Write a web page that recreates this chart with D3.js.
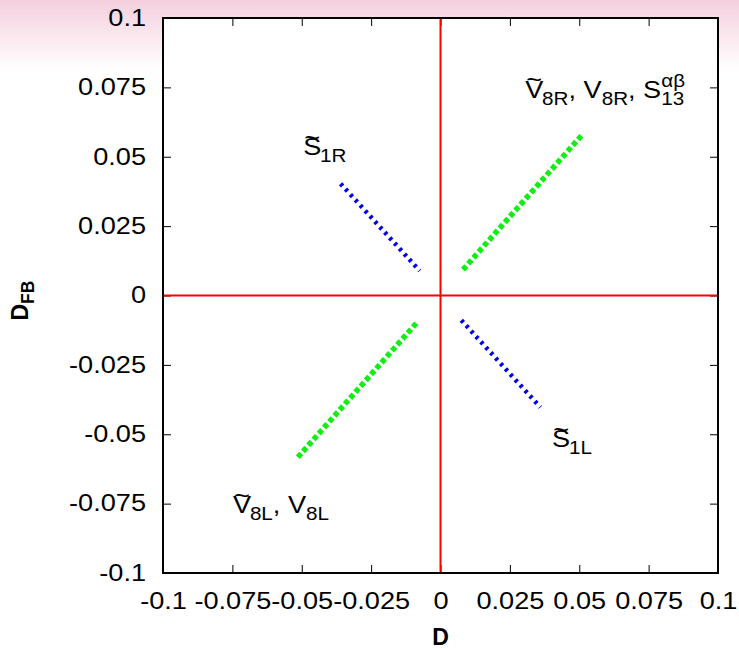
<!DOCTYPE html>
<html>
<head>
<meta charset="utf-8">
<script src="https://cdn.jsdelivr.net/npm/d3@7"></script>
<style>
  html, body { margin: 0; padding: 0; }
  body { width: 739px; height: 649px; overflow: hidden; background: #fff; }
  text { font-family: "Liberation Sans", Arial, sans-serif; fill: #000; }
</style>
</head>
<body>
<div id="chart"></div>
<script>
// tick values and their printed labels
const xTicks = [-0.1, -0.075, -0.05, -0.025, 0, 0.025, 0.05, 0.075, 0.1];
const xTickLabels = ['-0.1', '-0.075', '-0.05', '-0.025', '0', '0.025', '0.05', '0.075', '0.1'];
const yTicks = [-0.1, -0.075, -0.05, -0.025, 0, 0.025, 0.05, 0.075, 0.1];
const yTickLabels = ['-0.1', '-0.075', '-0.05', '-0.025', '0', '0.025', '0.05', '0.075', '0.1'];

// segments (endpoints)
const greenUpperX = [0.0081, 0.0514];
const greenUpperY = [0.0093, 0.0583];
const greenLowerX = [-0.0514, -0.0081];
const greenLowerY = [-0.0583, -0.0093];
const blueUpperX = [-0.0360, -0.0075];
const blueUpperY = [0.0403, 0.0089];
const blueLowerX = [0.0075, 0.0360];
const blueLowerY = [-0.0089, -0.0403];

const W = 739, H = 649;
const margin = { top: 18, right: 21, bottom: 76, left: 163 };
const width = W - margin.left - margin.right;
const height = H - margin.top - margin.bottom;
const FS = 23, SUB = 17.5, SX = 1.18;   // the original text is drawn a bit wide

const svg = d3.select('#chart').append('svg')
  .attr('width', W)
  .attr('height', H);

// pink wash at the top of the page
const grad = svg.append('defs').append('linearGradient')
  .attr('id', 'bg').attr('x1', 0).attr('y1', 0).attr('x2', 0).attr('y2', 1);
grad.append('stop').attr('offset', '0%').attr('stop-color', '#f4cfdd');
grad.append('stop').attr('offset', '100%').attr('stop-color', '#ffffff');
svg.append('rect').attr('width', W).attr('height', 70).attr('fill', 'url(#bg)');

const g = svg.append('g').attr('transform', `translate(${margin.left},${margin.top})`);

const x = d3.scaleLinear().domain([-0.1, 0.1]).range([0, width]);
const y = d3.scaleLinear().domain([-0.1, 0.1]).range([height, 0]);

g.append('rect').attr('width', width).attr('height', height).attr('fill', '#fff');

// inward ticks on all four sides
const tickLen = 8;
const styleAxis = sel => {
  sel.select('.domain').remove();
  sel.selectAll('line').attr('stroke', '#000').attr('stroke-width', 1);
};
const styleText = sel => sel.selectAll('text')
  .attr('font-size', FS).attr('fill', '#000')
  .style('font-family', '"Liberation Sans", Arial, sans-serif')
  .attr('x', function () { return (+d3.select(this).attr('x') || 0) / SX; })
  .attr('transform', `scale(${SX},1)`);

g.append('g').attr('transform', `translate(0,${height})`)
  .call(d3.axisBottom(x).tickValues(xTicks).tickSize(-tickLen).tickFormat((d, i) => xTickLabels[i]).tickPadding(20))
  .call(styleAxis).call(styleText);

g.append('g')
  .call(d3.axisTop(x).tickValues(xTicks).tickSize(-tickLen).tickFormat(''))
  .call(styleAxis);

g.append('g')
  .call(d3.axisLeft(y).tickValues(yTicks).tickSize(-tickLen).tickFormat((d, i) => yTickLabels[i]).tickPadding(17))
  .call(styleAxis).call(styleText);

g.append('g').attr('transform', `translate(${width},0)`)
  .call(d3.axisRight(y).tickValues(yTicks).tickSize(-tickLen).tickFormat(''))
  .call(styleAxis);

// zero lines
g.append('line')
  .attr('x1', x(0)).attr('x2', x(0)).attr('y1', 0).attr('y2', height)
  .attr('stroke', '#ff0000').attr('stroke-width', 2);
g.append('line')
  .attr('x1', 0).attr('x2', width).attr('y1', y(0)).attr('y2', y(0))
  .attr('stroke', '#ff0000').attr('stroke-width', 2);

// frame
g.append('rect').attr('width', width).attr('height', height)
  .attr('fill', 'none').attr('stroke', '#000').attr('stroke-width', 2);

const segment = (xs, ys) => d3.line()(xs.map((v, i) => [x(v), y(ys[i])]));

[[greenUpperX, greenUpperY], [greenLowerX, greenLowerY]].forEach(([xs, ys]) => {
  g.append('path').attr('d', segment(xs, ys))
    .attr('fill', 'none').attr('stroke', '#11ee11')
    .attr('stroke-width', 5.5).attr('stroke-dasharray', '5 2.9');
});
[[blueUpperX, blueUpperY], [blueLowerX, blueLowerY]].forEach(([xs, ys]) => {
  g.append('path').attr('d', segment(xs, ys))
    .attr('fill', 'none').attr('stroke', '#0000f0')
    .attr('stroke-width', 4.5).attr('stroke-dasharray', '3 4.3');
});

// measure a string at a font size
const measure = (s, fs) => {
  const t = svg.append('text').attr('font-size', fs).text(s);
  const w = t.node().getComputedTextLength();
  t.remove();
  return w;
};

// labels: parts are [text, kind] with kind 'n', 'tilde' (letter with tilde on top), 'sub', 'sup', 'subunder'
const addLabel = (lx, ly, parts) => {
  const t = g.append('text')
    .attr('transform', `translate(${x(lx)},${y(ly)}) scale(${SX},1)`)
    .attr('font-size', FS);
  let base = 0;   // current vertical offset from baseline
  let supW = 0;
  parts.forEach(([s, kind]) => {
    const goTo = off => { const d = off - base; base = off; return d; };
    if (kind === 'tilde') {
      const wb = measure(s, FS), wt = measure('~', FS);
      t.append('tspan').text(s).attr('dy', goTo(0));
      t.append('tspan').text('~').attr('dx', -(wb + wt) / 2).attr('dy', goTo(-9.5));
      t.append('tspan').text('').attr('dx', (wb - wt) / 2);
    } else if (kind === 'sub') {
      t.append('tspan').text(s).attr('font-size', SUB).attr('dy', goTo(7));
    } else if (kind === 'sup') {
      supW = measure(s, SUB);
      t.append('tspan').text(s).attr('font-size', SUB).attr('dy', goTo(-11));
    } else if (kind === 'subunder') {
      t.append('tspan').text(s).attr('font-size', SUB).attr('dx', -supW).attr('dy', goTo(7));
    } else {
      t.append('tspan').text(s).attr('dy', goTo(0));
    }
  });
};

addLabel(0.0305, 0.0712, [['V', 'tilde'], ['8R', 'sub'], [', V', 'n'], ['8R', 'sub'], [', S', 'n'], ['\u03b1\u03b2', 'sup'], ['13', 'subunder']]);
addLabel(-0.0495, 0.0506, [['S', 'tilde'], ['1R', 'sub']]);
addLabel(0.0402, -0.0546, [['S', 'tilde'], ['1L', 'sub']]);
addLabel(-0.0748, -0.0784, [['V', 'tilde'], ['8L', 'sub'], [', V', 'n'], ['8L', 'sub']]);

// axis titles
svg.append('text')
  .attr('x', margin.left + x(0)).attr('y', 645)
  .attr('text-anchor', 'middle').attr('font-size', 23).attr('font-weight', 'bold')
  .text('D');

const yt = svg.append('text')
  .attr('transform', `translate(28,${margin.top + y(0) + 25}) rotate(-90)`)
  .attr('font-size', 23).attr('font-weight', 'bold');
yt.append('tspan').text('D');
yt.append('tspan').text('FB').attr('font-size', SUB).attr('dy', 6);
</script>
</body>
</html>
